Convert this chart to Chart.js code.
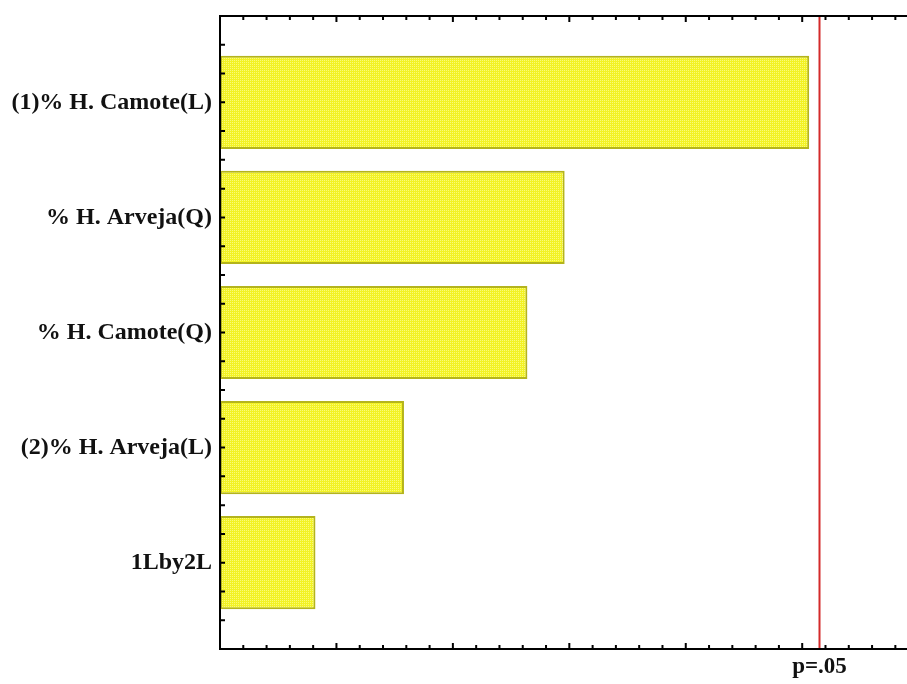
<!DOCTYPE html>
<html>
<head>
<meta charset="utf-8">
<script src="https://cdn.jsdelivr.net/npm/chart.js@4/dist/chart.umd.min.js"></script>
<style>
  html, body { margin: 0; padding: 0; background: #fff; overflow: hidden; }
  #wrap { width: 907px; height: 684px; }
</style>
</head>
<body>
<div id="wrap"><canvas id="pareto" width="907" height="684"></canvas></div>
<script>
// Pareto chart of standardized effects
const effects = ['(1)% H. Camote(L)', '% H. Arveja(Q)', '% H. Camote(Q)', '(2)% H. Arveja(L)', '1Lby2L'];
const standardizedEffect = [2.53, 1.48, 1.32, 0.79, 0.41];
const pCritical = 2.571;
const pLabel = 'p=.05';

const serif = '"Liberation Serif", "Times New Roman", serif';

// Yellow dotted fill for the bars
function dottedFill() {
  const c = document.createElement('canvas');
  c.width = 2; c.height = 2;
  const g = c.getContext('2d');
  g.fillStyle = '#f2f224';
  g.fillRect(0, 0, 2, 2);
  g.fillStyle = '#fafa78';
  g.fillRect(0, 0, 1, 1);
  return document.getElementById('pareto').getContext('2d').createPattern(c, 'repeat');
}

// Frame, inward ticks, critical-value line and its label
const frame = {
  id: 'frame',
  afterDatasetsDraw(chart) {
    const { ctx, chartArea: a, scales: { x, y } } = chart;
    ctx.save();

    // critical line
    const px = Math.round(x.getPixelForValue(pCritical)) + 0.5;
    ctx.strokeStyle = '#d42a2a';
    ctx.lineWidth = 2;
    ctx.beginPath();
    ctx.moveTo(px, a.top);
    ctx.lineTo(px, a.bottom);
    ctx.stroke();

    // axis lines
    ctx.strokeStyle = '#000';
    ctx.lineWidth = 2;
    ctx.beginPath();
    ctx.moveTo(a.right, a.top); ctx.lineTo(a.left, a.top);
    ctx.lineTo(a.left, a.bottom); ctx.lineTo(a.right, a.bottom);
    ctx.stroke();

    // x ticks, pointing inward on top and bottom
    ctx.lineWidth = 2;
    ctx.beginPath();
    for (let i = 0; i / 10 <= x.max + 1e-9; i++) {
      const p = x.getPixelForValue(i / 10);
      const len = i % 5 === 0 ? 6 : 4;
      ctx.moveTo(p, a.top); ctx.lineTo(p, a.top + len);
      ctx.moveTo(p, a.bottom); ctx.lineTo(p, a.bottom - len);
    }
    // y ticks, pointing inward from the left axis
    for (let v = y.min; v <= y.max + 1e-9; v += 0.25) {
      const p = y.getPixelForValue(v);
      ctx.moveTo(a.left, p); ctx.lineTo(a.left + 5, p);
    }
    ctx.stroke();

    // critical value label
    ctx.fillStyle = '#111';
    ctx.font = 'bold 23px ' + serif;
    ctx.textAlign = 'center';
    ctx.textBaseline = 'middle';
    ctx.fillText(pLabel, px, a.bottom + 18);
    ctx.restore();
  }
};

new Chart(document.getElementById('pareto'), {
  type: 'bar',
  data: {
    datasets: [{
      data: effects.map((_, i) => ({ x: standardizedEffect[i], y: i })),
      backgroundColor: dottedFill(),
      borderColor: '#b4b41c',
      borderWidth: 2,
      borderSkipped: false,
      categoryPercentage: 1,
      barPercentage: 0.81
    }]
  },
  options: {
    indexAxis: 'y',
    responsive: false,
    animation: false,
    layout: { padding: { top: 16, right: 0, bottom: 0, left: 0 } },
    plugins: { legend: { display: false }, tooltip: { enabled: false } },
    scales: {
      x: {
        type: 'linear', min: 0, max: 2.95, position: 'bottom', offset: false,
        grid: { display: false, drawTicks: false, offset: false },
        border: { display: false },
        ticks: { display: false },
        afterFit(s) { s.height = 35; s.paddingLeft = 0; s.paddingRight = 0; }
      },
      y: {
        type: 'linear', min: -0.75, max: 4.75, reverse: true, offset: false,
        grid: { display: false, drawTicks: false, offset: false },
        border: { display: false },
        afterBuildTicks(s) { s.ticks = effects.map((_, i) => ({ value: i })); },
        ticks: {
          autoSkip: false,
          padding: 8,
          color: '#111',
          font: { family: serif, size: 24, weight: 'bold' },
          callback: (v) => effects[v]
        },
        afterFit(s) { s.width = 220; s.paddingTop = 0; s.paddingBottom = 0; }
      }
    }
  },
  plugins: [frame]
});
</script>
</body>
</html>
